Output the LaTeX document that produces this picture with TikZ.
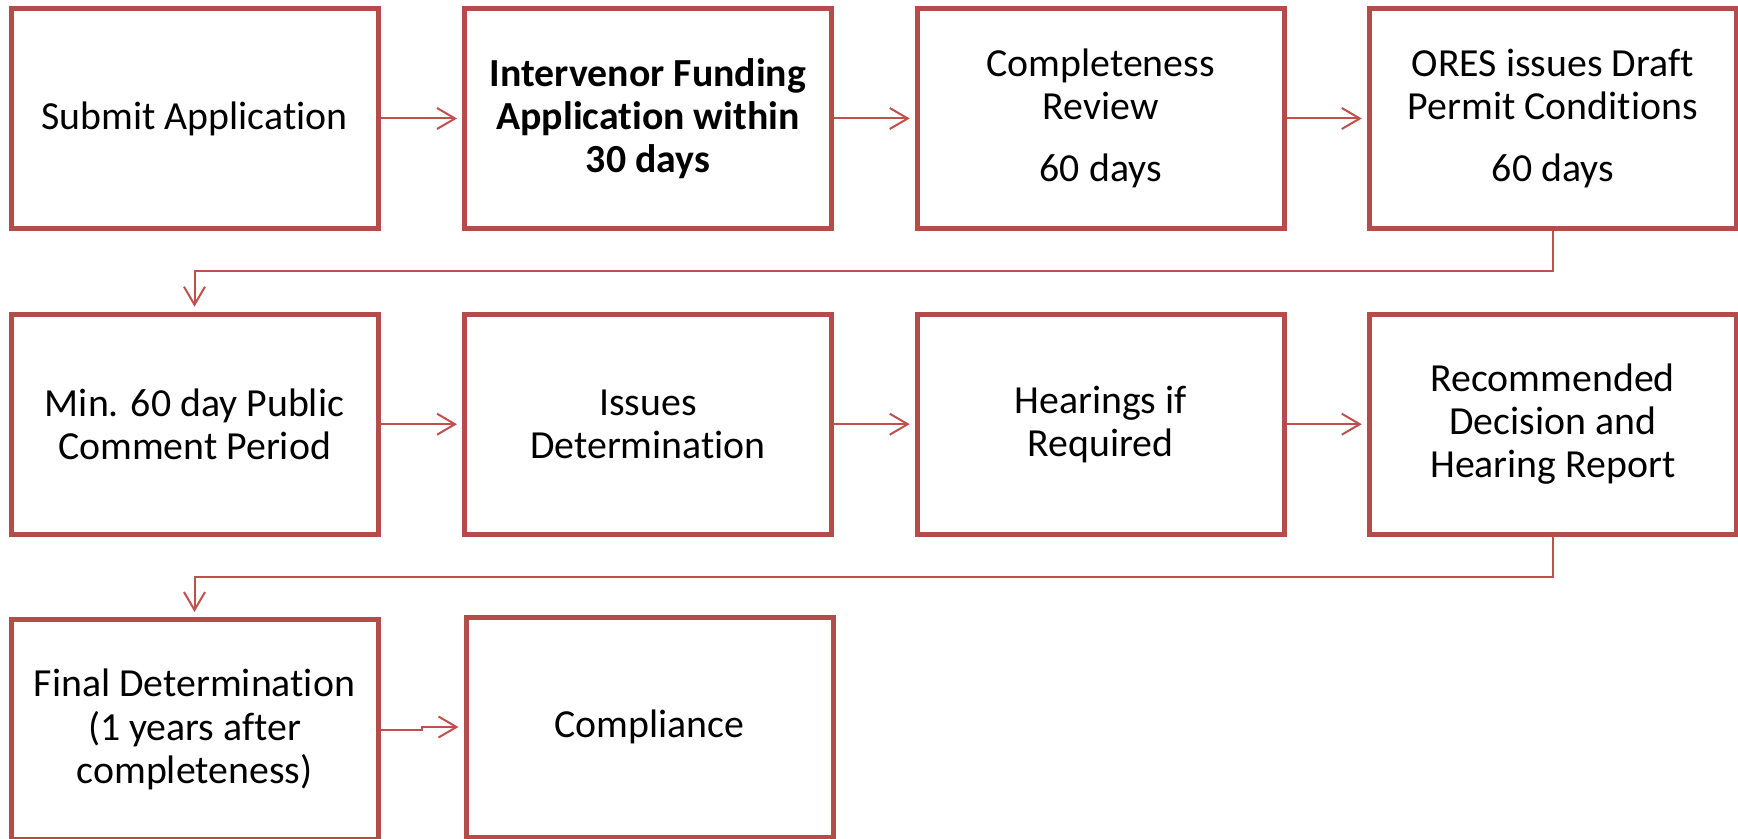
\documentclass[tikz,border=0pt]{standalone}
\usepackage{fontspec}
\setmainfont{Carlito}[Ligatures=NoCommon]
\usetikzlibrary{arrows.meta}
\definecolor{boxred}{HTML}{B44D4A}
\definecolor{linered}{HTML}{C0504D}
\begin{document}
\begin{tikzpicture}[x=0.5pt,y=-0.5pt,
  stepbox/.style={draw=boxred, line width=2.5pt, fill=white, minimum width=183.5pt, minimum height=110pt, inner sep=2pt, align=center, font=\fontsize{19.9}{21.65}\selectfont},
  flow/.style={draw=linered, line width=1pt, -{Straight Barb[length=9pt,width=10.5pt]}, shorten >=2.5pt}]
\path[use as bounding box, clip] (0,0) rectangle (1738,839);
\fill[white] (0,0) rectangle (1738,839);
% row 1
\node[stepbox] (a1) at (194.5,118.5) {Submit Application};
\node[stepbox, font=\fontsize{19.9}{21.65}\selectfont\bfseries] (a2) at (648,118.5) {Intervenor Funding\\Application within\\30 days};
\node[stepbox] (a3) at (1100.7,118.5) {Completeness\\Review\\[9.35pt]60 days};
\node[stepbox] (a4) at (1552.75,118.5) {ORES issues Draft\\Permit Conditions\\[9.35pt]60 days};
% row 2
\node[stepbox] (b1) at (194.5,424.2) {Min. 60 day Public\\Comment Period};
\node[stepbox] (b2) at (648,424.2) {Issues\\Determination};
\node[stepbox] (b3) at (1100.7,424.2) {Hearings if\\Required};
\node[stepbox] (b4) at (1552.75,424.2) {Recommended\\Decision and\\Hearing Report};
% row 3
\node[stepbox] (c1) at (194.5,729.5) {Final Determination\\(1 years after\\completeness)};
\node[stepbox] (c2) at (649.5,727) {Compliance};
% connectors
\draw[flow] (a1) -- (a2);
\draw[flow] (a2) -- (a3);
\draw[flow] (a3) -- (a4);
\draw[flow] (a4.south) -- ++(0,40) -| (b1.north);
\draw[flow] (b1) -- (b2);
\draw[flow] (b2) -- (b3);
\draw[flow] (b3) -- (b4);
\draw[flow] (b4.south) -- ++(0,40) -| (c1.north);
\draw[flow] (c1.east) -- ++(41,0) |- (c2.west);
\end{tikzpicture}
\end{document}
